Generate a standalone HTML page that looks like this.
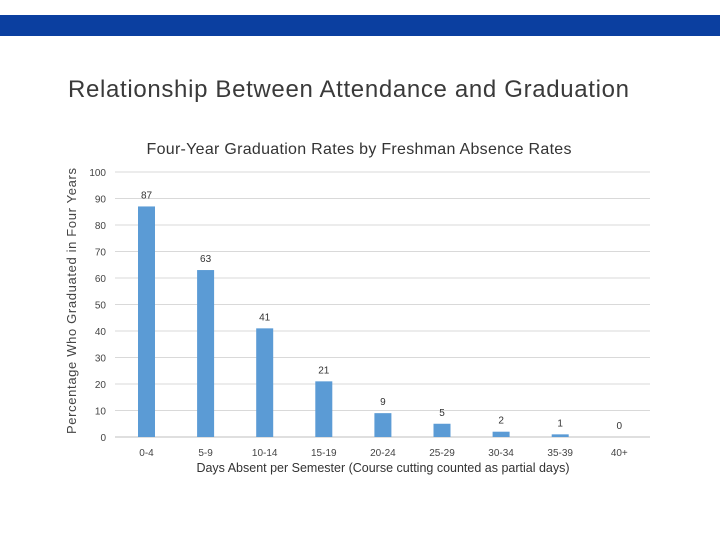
<!DOCTYPE html>
<html><head><meta charset="utf-8"><style>
body{margin:0;background:#fff;}
svg text{font-family:"Liberation Sans",sans-serif;}
</style></head><body>
<svg width="720" height="540" viewBox="0 0 720 540">
<rect x="0" y="15" width="720" height="21" fill="#0b3fa0"/>
<text x="349" y="97" text-anchor="middle" font-size="24" letter-spacing="1" fill="#3a3a3a" textLength="562">Relationship Between Attendance and Graduation</text>
<text x="359" y="154" text-anchor="middle" font-size="16" fill="#333" textLength="425">Four-Year Graduation Rates by Freshman Absence Rates</text>
<text transform="translate(76,301) rotate(-90)" text-anchor="middle" font-size="13" fill="#444" textLength="266">Percentage Who Graduated in Four Years</text>
<text x="383" y="472" text-anchor="middle" font-size="12.5" fill="#333">Days Absent per Semester (Course cutting counted as partial days)</text>
<g id="grid"></g><g id="bars"></g>
</svg>
<script>
const categories=["0-4","5-9","10-14","15-19","20-24","25-29","30-34","35-39","40+"];
const values=[87,63,41,21,9,5,2,1,0];
const yTicks=[0,10,20,30,40,50,60,70,80,90,100];
const NS="http://www.w3.org/2000/svg";
const y=v=>437-v*2.65;
const x=i=>146.5+i*59.1;
const grid=document.getElementById('grid'),bars=document.getElementById('bars');
function mk(tag,attrs,p){const e=document.createElementNS(NS,tag);for(const k in attrs)e.setAttribute(k,attrs[k]);p.appendChild(e);return e;}
yTicks.forEach(t=>{
 const l=mk('line',{x1:115,x2:650,y1:y(t),y2:y(t),stroke:t===0?'#bfbfbf':'#d9d9d9','stroke-width':1},grid);
 
 
 const tx=mk('text',{x:106,y:y(t)+4,'text-anchor':'end','font-size':10,fill:'#444'},grid);
 tx.textContent=t;
 
 
});
categories.forEach((c,i)=>{
 const v=values[i];
 const r=mk('rect',{x:x(i)-8.5,y:y(v),width:17,height:437-y(v),fill:'#5b9bd5'},bars);
 
 
 const lb=mk('text',{x:x(i),y:y(v)-8,'text-anchor':'middle','font-size':10,fill:'#333'},bars);
 lb.textContent=v;
 
 
 const xl=mk('text',{x:x(i),y:456,'text-anchor':'middle','font-size':10,fill:'#444'},bars);
 xl.textContent=c;
 
 
});
</script>
</body></html>
